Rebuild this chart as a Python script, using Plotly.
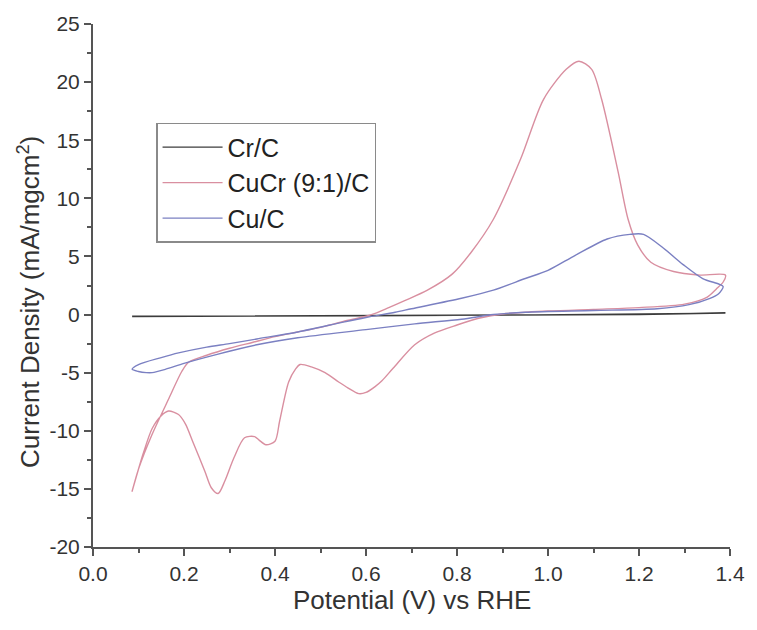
import plotly.graph_objects as go

# ---- data ----
cr_x = [0.086, 0.30, 0.60, 0.90, 1.20, 1.39, 1.20, 0.90, 0.60, 0.30, 0.086]
cr_y = [-0.15, -0.13, -0.10, -0.06, 0.00, 0.12, 0.04, -0.05, -0.10, -0.14, -0.18]

cucr_x = [0.086, 0.10, 0.13, 0.167, 0.195, 0.21, 0.25, 0.30, 0.35, 0.40, 0.45, 0.50,
          0.55, 0.60, 0.62, 0.65, 0.685, 0.735, 0.79, 0.83, 0.88, 0.94, 0.99, 1.04,
          1.068, 1.096, 1.118, 1.154, 1.176, 1.197, 1.226, 1.276, 1.33, 1.39,
          1.385, 1.37, 1.35, 1.30, 1.20, 1.10, 1.00, 0.90, 0.85, 0.80, 0.75, 0.707,
          0.66, 0.635, 0.62, 0.60, 0.584, 0.56, 0.54, 0.51, 0.48, 0.455, 0.445, 0.43,
          0.41, 0.40, 0.38, 0.365, 0.355, 0.333, 0.31, 0.29, 0.275, 0.26, 0.246,
          0.22, 0.203, 0.188, 0.166, 0.15, 0.13, 0.11, 0.086]
cucr_y = [-15.2, -13.3, -10.3, -7.2, -4.9, -4.1, -3.5, -2.9, -2.4, -1.9, -1.5, -1.1,
          -0.6, -0.15, 0.1, 0.6, 1.2, 2.1, 3.5, 5.3, 8.2, 13.4, 18.5, 21.1,
          21.8, 21.1, 18.5, 12.3, 8.2, 6.0, 4.5, 3.7, 3.4, 3.4,
          2.8, 2.2, 1.5, 0.9, 0.6, 0.45, 0.3, 0.05, -0.3, -0.9, -1.6, -2.6,
          -4.6, -5.7, -6.2, -6.7, -6.8, -6.3, -5.8, -5.0, -4.5, -4.3, -4.7, -5.8,
          -9.2, -10.9, -11.2, -10.8, -10.5, -10.6, -12.3, -14.3, -15.4, -14.9, -13.5,
          -11.0, -9.4, -8.6, -8.3, -8.7, -9.8, -12.0, -15.2]

cu_x = [0.086, 0.10, 0.15, 0.188, 0.25, 0.30, 0.36, 0.45, 0.55, 0.60, 0.664, 0.70,
        0.81, 0.88, 0.95, 1.00, 1.06, 1.13, 1.18, 1.21, 1.254, 1.297, 1.34, 1.377,
        1.385, 1.375, 1.356, 1.31, 1.24, 1.10, 0.95, 0.88, 0.81, 0.707, 0.60, 0.45,
        0.36, 0.275, 0.20, 0.16, 0.13, 0.117, 0.10, 0.086]
cu_y = [-4.7, -4.3, -3.7, -3.3, -2.8, -2.5, -2.1, -1.5, -0.65, -0.25, 0.2, 0.5,
        1.4, 2.1, 3.1, 3.8, 5.1, 6.5, 6.9, 6.9, 5.7, 4.3, 3.1, 2.6,
        2.4, 1.8, 1.4, 0.85, 0.5, 0.35, 0.2, 0.0, -0.4, -0.8, -1.3, -2.0,
        -2.6, -3.4, -4.2, -4.7, -5.0, -5.0, -4.9, -4.7]

series_names = ["Cr/C", "CuCr (9:1)/C", "Cu/C"]
x_ticks = [0.0, 0.2, 0.4, 0.6, 0.8, 1.0, 1.2, 1.4]
x_tick_labels = ["0.0", "0.2", "0.4", "0.6", "0.8", "1.0", "1.2", "1.4"]
y_ticks = [-20, -15, -10, -5, 0, 5, 10, 15, 20, 25]
y_tick_labels = ["-20", "-15", "-10", "-5", "0", "5", "10", "15", "20", "25"]

FONT = "Liberation Sans, Arial, sans-serif"

fig = go.Figure()
fig.add_trace(go.Scatter(x=cr_x, y=cr_y, mode="lines", name=series_names[0],
                         line=dict(color="#3c3c3c", width=1.4)))
fig.add_trace(go.Scatter(x=cucr_x, y=cucr_y, mode="lines", name=series_names[1],
                         line=dict(color="#d98fa0", width=1.4, shape="spline", smoothing=0.8)))
fig.add_trace(go.Scatter(x=cu_x, y=cu_y, mode="lines", name=series_names[2],
                         line=dict(color="#7b80c2", width=1.4, shape="spline", smoothing=0.8)))

axis_common = dict(showgrid=False, zeroline=False, showline=True, linecolor="#555555",
                   linewidth=2, ticks="outside", ticklen=7, tickwidth=1.5, tickcolor="#555555",
                   tickfont=dict(family=FONT, size=21, color="#333333"))

fig.update_xaxes(range=[0, 1.4], tickvals=x_ticks, ticktext=x_tick_labels,
                 minor=dict(dtick=0.1, ticks="outside", ticklen=4, tickwidth=1.5, tickcolor="#555555"),
                 **axis_common)
fig.update_yaxes(range=[-20, 25], tickvals=y_ticks, ticktext=y_tick_labels,
                 minor=dict(dtick=2.5, ticks="outside", ticklen=4, tickwidth=1.5, tickcolor="#555555"),
                 **axis_common)

fig.update_layout(
    width=757, height=630,
    margin=dict(l=93, r=17, t=22, b=83),
    paper_bgcolor="white", plot_bgcolor="white",
    showlegend=True,
    hovermode=False,
    legend=dict(x=0.099, y=0.811, xanchor="left", yanchor="top",
                bordercolor="#8a8a8a", borderwidth=1.5, bgcolor="white",
                font=dict(family=FONT, size=25, color="#222222"),
                tracegroupgap=0, itemwidth=60),
    annotations=[
        dict(text="Potential (V) vs RHE", xref="paper", yref="paper", x=0.5, y=-0.101,
             xanchor="center", yanchor="middle", showarrow=False,
             font=dict(family=FONT, size=26, color="#333333")),
        dict(text="Current Density (mA/mgcm<sup>2</sup>)", xref="paper", yref="paper",
             x=-0.1, y=0.469, xanchor="center", yanchor="middle", textangle=-90,
             showarrow=False, font=dict(family=FONT, size=26, color="#333333")),
    ],
)

fig.write_html("out.html",
               config={"displayModeBar": False},
               post_script="document.body.style.margin='0';document.body.style.overflow='hidden';")
